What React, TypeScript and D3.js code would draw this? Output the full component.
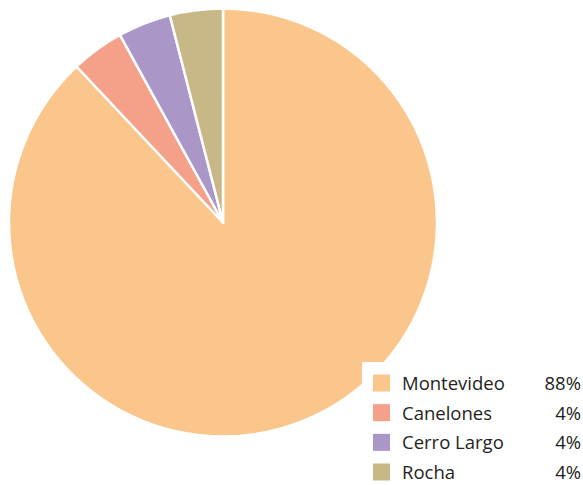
import React from "react";
import * as d3 from "d3";

const categories = ["Montevideo", "Canelones", "Cerro Largo", "Rocha"];
const values = [88, 4, 4, 4];
const labels = ["88%", "4%", "4%", "4%"];
const colors = ["#FBC68B", "#F5A189", "#AA97C8", "#C8B887"];

export default function App() {
  const W = 583, H = 485;
  const cx = 223, cy = 222.5, r = 214;
  const pie = d3.pie<number>().sort(null).value((d) => d)(values);
  const arc = d3.arc<d3.PieArcDatum<number>>().innerRadius(0).outerRadius(r);
  const rowY = d3.scalePoint<string>().domain(categories).range([383, 472]);
  const font = "'Open Sans', 'Noto Sans', sans-serif";
  return (
    <svg width={W} height={H} style={{ position: "absolute", left: 0, top: 0 }}>
      <rect width={W} height={H} fill="#fff" />
      <g transform={`translate(${cx},${cy})`}>
        {pie.map((p, i) => (
          <path key={i} d={arc(p) || ""} fill={colors[i]} stroke="#fff" strokeWidth={2.5} strokeLinejoin="round" />
        ))}
      </g>
      <rect x={362} y={362} width={W - 362} height={H - 362} fill="#fff" />
      {categories.map((c, i) => {
        const y = rowY(c)!;
        return (
          <g key={c}>
            <rect x={373} y={y - 8.5} width={17} height={17} fill={colors[i]} />
            <text x={402} y={y + 7} fontFamily={font} fontSize={18.5} fill="#231F20">{c}</text>
            <text x={581} y={y + 7} textAnchor="end" fontFamily={font} fontSize={18.5} fill="#231F20">{labels[i]}</text>
          </g>
        );
      })}
    </svg>
  );
}
